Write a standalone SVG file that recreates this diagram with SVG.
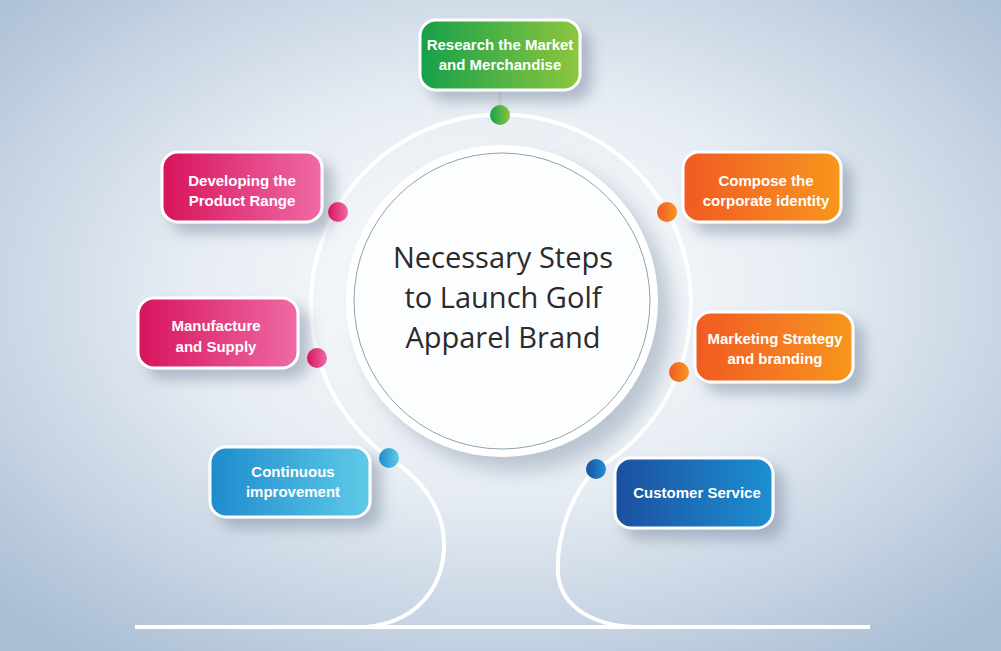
<svg xmlns="http://www.w3.org/2000/svg" width="1001" height="651" viewBox="0 0 1001 651">
<defs>
<radialGradient id="bg" cx="50%" cy="45%" r="70%"><stop offset="0" stop-color="#ffffff"/><stop offset="0.45" stop-color="#e6ecf3"/><stop offset="1" stop-color="#a9bdd4"/></radialGradient>
<linearGradient id="gGreen" x1="0" x2="1"><stop offset="0" stop-color="#16a04a"/><stop offset="1" stop-color="#8dc63f"/></linearGradient>
<linearGradient id="gOrange" x1="0" x2="1"><stop offset="0" stop-color="#f15a24"/><stop offset="1" stop-color="#f7961e"/></linearGradient>
<linearGradient id="gPink" x1="0" x2="1"><stop offset="0" stop-color="#d7145c"/><stop offset="1" stop-color="#ef6aa6"/></linearGradient>
<linearGradient id="gBlueD" x1="0" x2="1"><stop offset="0" stop-color="#1b4f9f"/><stop offset="1" stop-color="#1f8fd2"/></linearGradient>
<linearGradient id="gBlueL" x1="0" x2="1"><stop offset="0" stop-color="#1d8bcd"/><stop offset="1" stop-color="#5fcbe8"/></linearGradient>
<filter id="sh" x="-30%" y="-30%" width="170%" height="180%"><feDropShadow dx="10" dy="10" stdDeviation="7" flood-color="#6d7f96" flood-opacity="0.45"/></filter>
<filter id="shc" x="-20%" y="-20%" width="150%" height="150%"><feDropShadow dx="14" dy="14" stdDeviation="10" flood-color="#7d8ea3" flood-opacity="0.45"/></filter>
</defs>
<style>
.box{stroke:#ffffff;stroke-width:3}
.lbl{font-family:"Liberation Sans",Arial,sans-serif;font-weight:bold;font-size:15px;fill:#ffffff;text-anchor:middle}
.ttl{font-family:"Open Sans","Noto Sans",sans-serif;font-size:29px;fill:#2b2b2b;text-anchor:middle}
.ln{fill:none;stroke:#ffffff;stroke-width:4}
</style>
<rect width="1001" height="651" fill="url(#bg)"/>
<g id="connectors">
<path class="ln" d="M365,627 C425,622 452,575 442,525 C434,495 412,472 389,458 A190,190 0 1 1 596,469 C572,492 556,535 558,575 C562,608 595,627 640,627"/>
<line class="ln" x1="135" y1="627" x2="870" y2="627"/>
<line x1="500" y1="90" x2="500" y2="108" stroke="#d6dde6" stroke-width="3"/>
</g>
<g id="center">
<circle cx="502" cy="301" r="156" fill="#ffffff" filter="url(#shc)"/>
<circle cx="502" cy="301" r="148" fill="#fcfdfe" stroke="#8fa3a8" stroke-width="1"/>
<text class="ttl" x="503" y="268">Necessary Steps</text>
<text class="ttl" x="503" y="308">to Launch Golf</text>
<text class="ttl" x="503" y="348">Apparel Brand</text>
</g>
<g id="n1"><rect class="box" x="420" y="20" width="160" height="70" rx="16" fill="url(#gGreen)" filter="url(#sh)"/><text class="lbl" x="500" y="50">Research the Market</text><text class="lbl" x="500" y="70">and Merchandise</text><circle cx="500" cy="115" r="10" fill="url(#gGreen)"/></g>
<g id="n2"><rect class="box" x="683" y="152" width="158" height="70" rx="16" fill="url(#gOrange)" filter="url(#sh)"/><text class="lbl" x="766" y="186">Compose the</text><text class="lbl" x="766" y="206">corporate identity</text><circle cx="667" cy="212" r="10" fill="url(#gOrange)"/></g>
<g id="n3"><rect class="box" x="695" y="312" width="158" height="70" rx="16" fill="url(#gOrange)" filter="url(#sh)"/><text class="lbl" x="775" y="344">Marketing Strategy</text><text class="lbl" x="775" y="364">and branding</text><circle cx="679" cy="372" r="10" fill="url(#gOrange)"/></g>
<g id="n4"><rect class="box" x="615" y="458" width="158" height="70" rx="16" fill="url(#gBlueD)" filter="url(#sh)"/><text class="lbl" x="697" y="498">Customer Service</text><circle cx="596" cy="469" r="10" fill="url(#gBlueD)"/></g>
<g id="n5"><rect class="box" x="210" y="447" width="160" height="70" rx="16" fill="url(#gBlueL)" filter="url(#sh)"/><text class="lbl" x="293" y="477">Continuous</text><text class="lbl" x="293" y="497">improvement</text><circle cx="389" cy="458" r="10" fill="url(#gBlueL)"/></g>
<g id="n6"><rect class="box" x="138" y="298" width="160" height="70" rx="16" fill="url(#gPink)" filter="url(#sh)"/><text class="lbl" x="216" y="331">Manufacture</text><text class="lbl" x="216" y="352">and Supply</text><circle cx="317" cy="358" r="10" fill="url(#gPink)"/></g>
<g id="n7"><rect class="box" x="162" y="152" width="160" height="70" rx="16" fill="url(#gPink)" filter="url(#sh)"/><text class="lbl" x="242" y="186">Developing the</text><text class="lbl" x="242" y="206">Product Range</text><circle cx="338" cy="212" r="10" fill="url(#gPink)"/></g>
</svg>
